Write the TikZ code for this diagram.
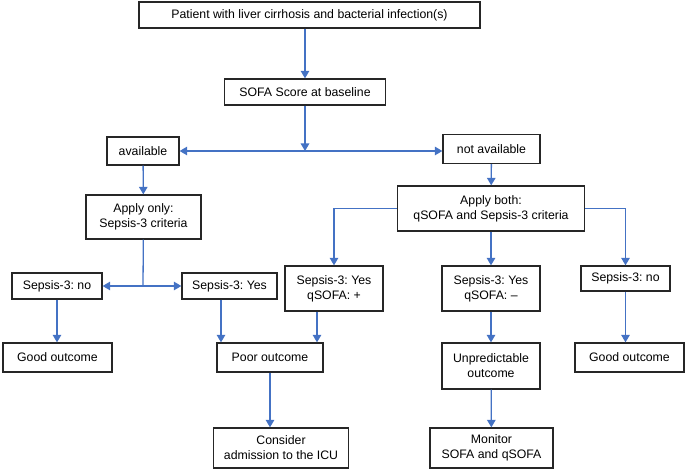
\documentclass[tikz,border=0pt]{standalone}
\usepackage{fontspec}
\setmainfont{Liberation Sans}
\usetikzlibrary{arrows.meta}
\definecolor{flowblue}{HTML}{4472C4}
\definecolor{boxline}{HTML}{262626}
\frenchspacing
\begin{document}
\begin{tikzpicture}[x=1pt, y=-1pt,
					box/.style = {draw=boxline, line width=1.3pt, rectangle, inner sep=2pt, align=center,
						font=\fontsize{12.3}{15}\selectfont},
					arr/.style = {draw=flowblue, line width=1.3pt, -{Triangle[width=8.5pt,length=7.5pt]}},
					link/.style = {draw=flowblue, line width=1.3pt}]
					
					\useasboundingbox (0,0) rectangle (685,470);
					
					\node[box, minimum width=341pt, minimum height=26pt] (patient) at (309.5,15) {Patient with liver cirrhosis and bacterial infection(s)};
					\node[box, minimum width=161pt, minimum height=26pt] (sofa) at (305,92) {SOFA Score at baseline};
					\node[box, minimum width=72pt, minimum height=28pt] (avail) at (143,151) {available};
					\node[box, minimum width=97pt, minimum height=29pt] (notavail) at (491.5,149) {not available};
					\node[box, minimum width=115pt, minimum height=44pt] (applyonly) at (143.5,217) {Apply only:\\Sepsis-3 criteria};
					\node[box, minimum width=187pt, minimum height=45pt] (applyboth) at (491,208.5) {Apply both:\\qSOFA and Sepsis-3 criteria};
					
					\node[box, minimum width=90pt, minimum height=26pt] (noleft) at (57,286) {Sepsis-3: no};
					\node[box, minimum width=95pt, minimum height=26pt] (yesleft) at (229.5,286) {Sepsis-3: Yes};
					\node[box, minimum width=98pt, minimum height=45pt] (yesplus) at (334,288.5) {Sepsis-3: Yes\\qSOFA: +};
					\node[box, minimum width=98pt, minimum height=45pt] (yesminus) at (491,288.5) {Sepsis-3: Yes\\qSOFA: --};
					\node[box, minimum width=89pt, minimum height=25pt] (noright) at (625.5,278.5) {Sepsis-3: no};
					
					\node[box, minimum width=109pt, minimum height=29pt] (goodleft) at (57.5,357.5) {Good outcome};
					\node[box, minimum width=106pt, minimum height=29pt] (poor) at (270,357.5) {Poor outcome};
					\node[box, minimum width=98pt, minimum height=46pt] (unpred) at (491,366) {Unpredictable\\outcome};
					\node[box, minimum width=109pt, minimum height=29pt] (goodright) at (629.5,357.5) {Good outcome};
					
					\node[box, minimum width=135pt, minimum height=40pt] (icu) at (281,448) {Consider\\admission to the ICU};
					\node[box, minimum width=123pt, minimum height=40pt] (monitor) at (491.5,448) {Monitor\\SOFA and qSOFA};
					
					\coordinate (split) at (305,151);
					\coordinate (splitonly) at (143,286);
					
					\draw[arr] (patient.south -| sofa.north) to (sofa.north);
					\draw[arr] (sofa) to (split);
					\draw[arr] (split) to (avail);
					\draw[arr] (split) to (split -| notavail.west);
					\draw[arr] (avail) to (applyonly);
					\draw[arr] (notavail) to (applyboth);
					
					\draw[link] (applyonly) to (splitonly);
					\draw[arr] (splitonly) to (noleft);
					\draw[arr] (splitonly) to (yesleft);
					\draw[arr] (applyboth.west) -| (yesplus.north);
					\draw[arr] (applyboth) to (yesminus);
					\draw[arr] (applyboth.east) -| (noright.north);
					
					\draw[arr] (noleft.south) to (noleft.south |- goodleft.north);
					\draw[arr] ([xshift=-8.5pt]yesleft.south) to ([xshift=-8.5pt]yesleft.south |- poor.north);
					\draw[arr] ([xshift=-17pt]yesplus.south) to ([xshift=-17pt]yesplus.south |- poor.north);
					\draw[arr] (yesminus) to (unpred);
					\draw[arr] (noright.south) to (noright.south |- goodright.north);
					
					\draw[arr] (poor.south) to (poor.south |- icu.north);
					\draw[arr] (unpred) to (monitor);
					
				\end{tikzpicture}
\end{document}
